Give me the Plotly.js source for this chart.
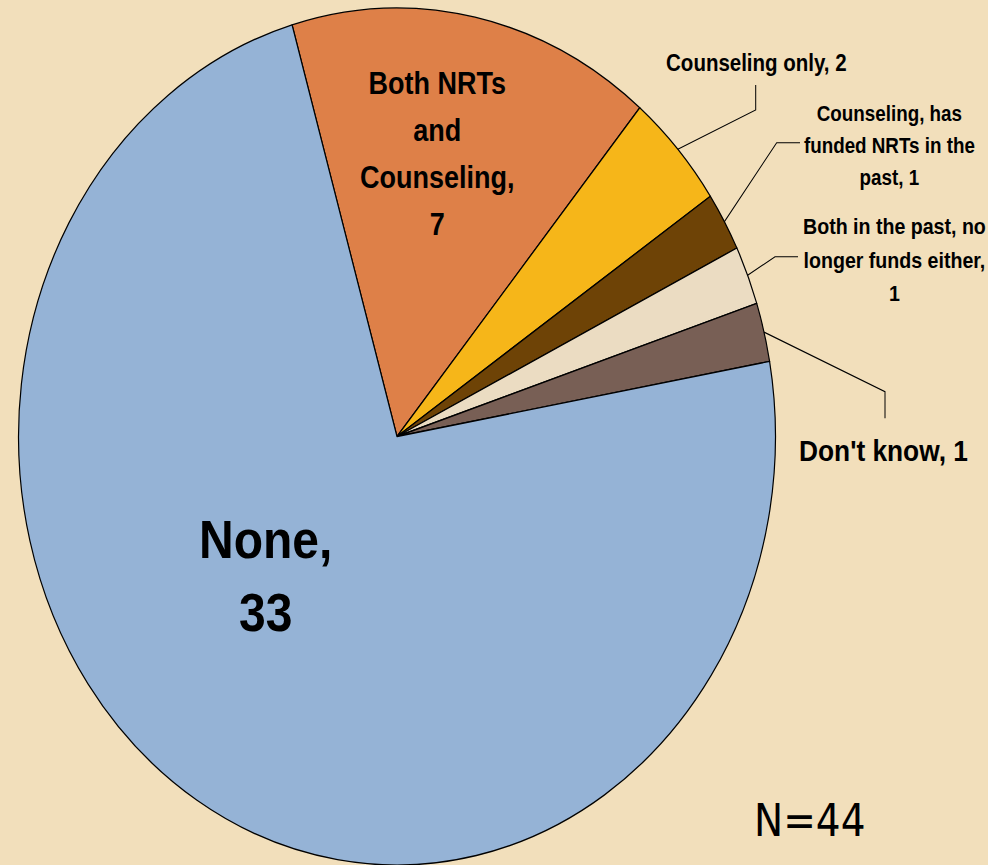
<!DOCTYPE html>
<html>
<head>
<meta charset="utf-8">
<script src="https://cdn.plot.ly/plotly-3.0.1.min.js"></script>
<style>
  html, body { margin: 0; padding: 0; background: #F2DFBB; overflow: hidden; width: 988px; height: 865px; }
  #chart { width: 988px; height: 764px; transform: scaleY(1.13220); transform-origin: 0 0; }
</style>
</head>
<body>
<div id="chart"></div>
<script>
// ---- data ----
const categories = [
  "Both NRTs and Counseling",
  "Counseling only",
  "Counseling, has funded NRTs in the past",
  "Both in the past, no longer funds either",
  "Don't know",
  "None"
];
const counts = [7, 2, 1, 1, 1, 33];
const sliceColors = ["#DE8048", "#F6B619", "#6E4306", "#EBDCC2", "#785F55", "#95B3D6"];
const sampleSize = 44;

// ---- layout helpers (reference frame is 988 x 865, plot drawn at 988 x 764 and stretched) ----
const FW = 988, FH = 865, PH = 764;
const stretch = FH / PH;
const px = x => x / FW;
const py = y => 1 - y / FH;

const domX = [18 / FW, 776 / FW];
const domY = [0, 1 - 8 / FH];
const rotation = -16.1;

// label styling: centre (reference px), font size, line gap (reference px), wrap width (chars), elbow points
const labelStyle = [
  { cx: 437.5, cy: 154, size: 27,   gap: 47,   wrap: 11, elbow: null },
  { cx: 756.5, cy: 63,  size: 20.5, gap: 30,   wrap: 30, elbow: [[755.7, 110], [755.7, 85]] },
  { cx: 889,   cy: 146, size: 18.8, gap: 31.7, wrap: 18, elbow: [[776.7, 142.7], [800, 142.7]] },
  { cx: 894,   cy: 260, size: 19.6, gap: 33.5, wrap: 20, elbow: [[775, 256.7], [798, 256.7]] },
  { cx: 883,   cy: 451, size: 26.3, gap: 30,   wrap: 30, elbow: [[885, 391.7], [885, 418.3]] },
  { cx: 265,   cy: 576, size: 48,   gap: 73,   wrap: 5,  elbow: null }
];

function wrap(str, max) {
  const words = str.split(' ');
  const lines = [];
  let cur = '';
  for (const w of words) {
    const t = cur ? cur + ' ' + w : w;
    if (t.length > max && cur) { lines.push(cur); cur = w; }
    else cur = t;
  }
  if (cur) lines.push(cur);
  return lines;
}

const total = counts.reduce((a, b) => a + b, 0);
const annotations = [];
const shapes = [];

// pie geometry in paper units (for leader-line anchors on the rim)
const plotW = FW, plotH = PH;
const rPx = Math.min((domX[1] - domX[0]) * plotW, (domY[1] - domY[0]) * plotH) / 2;
const cxP = (domX[0] + domX[1]) / 2;
const cyP = (domY[0] + domY[1]) / 2;
const rX = rPx / plotW, rY = rPx / plotH;

let cum = 0;
categories.forEach((cat, i) => {
  const st = labelStyle[i];
  const lines = wrap(cat + ', ' + counts[i], st.wrap);
  const lineFont = (st.gap / stretch) / 1.3;
  const text = lines.map(l => `<span style="font-size:${st.size}px">${l}</span>`).join('<br>');
  annotations.push({
    xref: 'paper', yref: 'paper', x: px(st.cx), y: py(st.cy),
    xanchor: 'center', yanchor: 'middle', align: 'center', showarrow: false,
    text: text,
    font: { family: 'Liberation Sans, Arial, sans-serif', size: lineFont, color: '#000', weight: 'bold' }
  });
  const mid = (rotation + 360 * (cum + counts[i] / 2) / total) * Math.PI / 180;
  cum += counts[i];
  if (st.elbow) {
    const x0 = cxP + rX * Math.sin(mid);
    const y0 = cyP + rY * Math.cos(mid);
    let d = `M ${x0} ${y0}`;
    st.elbow.forEach(p => { d += ` L ${px(p[0])} ${py(p[1])}`; });
    shapes.push({ type: 'path', xref: 'paper', yref: 'paper', path: d, line: { color: '#000', width: 1 } });
  }
});

annotations.push({
  xref: 'paper', yref: 'paper', x: px(809), y: py(820),
  xanchor: 'center', yanchor: 'middle', showarrow: false,
  text: 'N=' + sampleSize,
  font: { family: 'DejaVu Sans, sans-serif', size: 39, color: '#000' }
});

const trace = {
  type: 'pie',
  labels: categories,
  values: counts,
  sort: false,
  direction: 'clockwise',
  rotation: rotation,
  textinfo: 'none',
  hoverinfo: 'label+value',
  domain: { x: domX, y: domY },
  marker: { colors: sliceColors, line: { color: '#000', width: 1.2 } },
  showlegend: false
};

const layout = {
  width: FW, height: PH,
  margin: { l: 0, r: 0, t: 0, b: 0, pad: 0 },
  paper_bgcolor: '#F2DFBB',
  plot_bgcolor: '#F2DFBB',
  showlegend: false,
  annotations: annotations,
  shapes: shapes
};

Plotly.newPlot('chart', [trace], layout, { displayModeBar: false, staticPlot: true });
</script>
</body>
</html>
